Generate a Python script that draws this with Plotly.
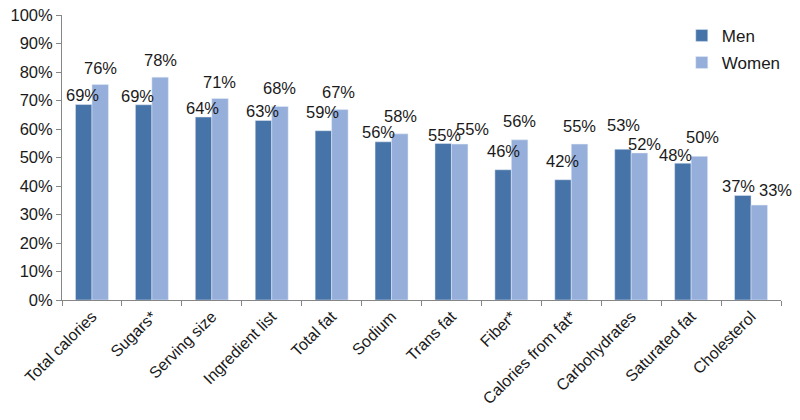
import plotly.graph_objects as go

categories = ["Total calories", "Sugars*", "Serving size", "Ingredient list", "Total fat",
              "Sodium", "Trans fat", "Fiber*", "Calories from fat*", "Carbohydrates",
              "Saturated fat", "Cholesterol"]
men = [68.6, 68.5, 64.2, 63.0, 59.4, 55.5, 54.9, 45.7, 42.2, 52.9, 48.0, 36.7]
women = [75.6, 78.2, 70.7, 67.9, 66.8, 58.3, 54.7, 56.2, 54.7, 51.6, 50.4, 33.3]
men_labels = ["69%", "69%", "64%", "63%", "59%", "56%", "55%", "46%", "42%", "53%", "48%", "37%"]
women_labels = ["76%", "78%", "71%", "68%", "67%", "58%", "55%", "56%", "55%", "52%", "50%", "33%"]

# label placement styling (pixel nudges relative to bar top-centre)
men_dx = [-1, -6, -1, -1, -1, -5, 1, 0, -1, 1, -7, -4]
men_gap = [2, 2, 2, 2, 12, 3, 2, 12, 12, 17, 1, 2]
women_dx = [0, 0, -1, 0, -1, 1, 13, 0, 0, 5, 3, 16]
women_gap = [10, 10, 10, 11, 11, 11, 8, 12, 11, 2, 12, 8]

font = "Liberation Sans, Arial, sans-serif"
MEN_C = "#4673A8"
WOMEN_C = "#96AEDA"
BAR_OFF = 8.25  # half bar width in px

fig = go.Figure()
fig.add_bar(name="Men", x=categories, y=men, marker_color=MEN_C, legendgroup="m")
fig.add_bar(name="Women", x=categories, y=women, marker_color=WOMEN_C, legendgroup="w")

annotations = []
for series, labels, dxs, gaps, sign in [(men, men_labels, men_dx, men_gap, -1),
                                         (women, women_labels, women_dx, women_gap, 1)]:
    for cat, val, lab, dx, gap in zip(categories, series, labels, dxs, gaps):
        annotations.append(dict(
            x=cat, y=val, xref="x", yref="y", text=lab, showarrow=False,
            xanchor="center", yanchor="bottom",
            xshift=sign * BAR_OFF + dx, yshift=gap - 4,
            font=dict(size=16.5, family=font, color="#1a1a1a"),
        ))

fig.update_layout(
    width=800, height=420,
    margin=dict(l=62, r=19, t=15, b=120, autoexpand=False),
    barmode="group", bargap=0.45, bargroupgap=0,
    plot_bgcolor="white", paper_bgcolor="white",
    font=dict(family=font, color="#1a1a1a"),
    legend=dict(x=0.862, y=0.99, xanchor="left", yanchor="top",
                font=dict(size=17, family=font), bgcolor="rgba(0,0,0,0)",
                itemwidth=30, tracegroupgap=2),
    showlegend=True,
    annotations=annotations,
)
fig.update_yaxes(range=[0, 100], dtick=10, ticksuffix="%", showgrid=False,
                 showline=True, linecolor="#868686", linewidth=1,
                 ticks="outside", ticklen=5, tickcolor="#868686", automargin=False,
                 tickfont=dict(size=16.5, family=font, color="#1a1a1a"), zeroline=False)
fig.update_xaxes(range=[-0.5, len(categories) - 0.5],
                 showline=True, linecolor="#868686", linewidth=1,
                 ticks="outside", ticklen=5, tickcolor="#868686", tickson="boundaries",
                 tickangle=-45, automargin=False,
                 tickfont=dict(size=16, family=font, color="#1a1a1a"))

fig.write_html("out.html", config={"displayModeBar": False},
               post_script="document.body.style.margin='0';")
